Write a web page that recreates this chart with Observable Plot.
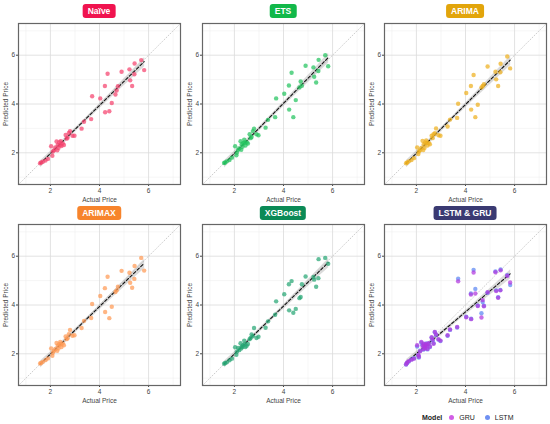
<!DOCTYPE html>
<html><head><meta charset="utf-8">
<script src="https://cdn.jsdelivr.net/npm/d3@7"></script>
<script src="https://cdn.jsdelivr.net/npm/@observablehq/plot@0.6"></script>
<style>
body{margin:0;background:#fff;font-family:"Liberation Sans",Arial,sans-serif;}
#wrap{position:relative;width:550px;height:424px;overflow:hidden;background:#fff;}
.panel{position:absolute;}
.badge{position:absolute;transform:translate(-50%,-50%);color:#fff;font-weight:bold;font-size:8.5px;padding:2px 5px;border-radius:3px;white-space:nowrap;line-height:10px;}
.legend{position:absolute;left:422px;top:413px;font-size:7px;display:flex;align-items:center;color:#222;line-height:9px;}
.legend b{margin-right:7px;}
.legend .dot{display:inline-block;width:5px;height:5px;border-radius:50%;margin-right:5px;}
.legend .lab{margin-right:10px;}
</style></head><body><div id="wrap"></div>
<script>
// ---- data ----
const modelNames = ["Naïve", "ETS", "ARIMA", "ARIMAX", "XGBoost", "LSTM & GRU"];
const badgeColors = ["#f0134f", "#12b84a", "#e2a50b", "#f7842c", "#0b8a56", "#3a3a72"];
const pointColors = ["#f5426e", "#22c35e", "#efb01f", "#ff9a55", "#27a675", null];
const seriesNames = ["GRU", "LSTM"];
const seriesColors = ["#b238de", "#5b86f2"];
const majorTicks = [2, 4, 6];
const minorTicks = [1, 3, 5, 7];
const limits = [0.7, 7.3];

const actualPrice = [1.58, 1.62, 1.69, 1.8, 1.9, 2.03, 2.08, 2.1, 2.15, 2.2, 2.25, 2.28, 2.3, 2.33, 2.36, 2.4, 2.42, 2.45, 2.5, 2.55, 2.62, 2.66, 2.7, 2.75, 2.8, 2.9, 2.98, 3.27, 3.37, 3.66, 3.7, 4.03, 4.22, 4.23, 4.33, 4.4, 4.5, 4.65, 4.7, 4.75, 4.9, 5.22, 5.25, 5.33, 5.42, 5.43, 5.7, 5.82];

const naivePred = [1.57, 1.6, 1.63, 1.68, 1.75, 2.27, 1.88, 2.05, 2.1, 2.22, 2.46, 2.1, 2.32, 2.2, 2.43, 2.32, 2.48, 2.28, 2.38, 2.32, 2.73, 2.58, 2.62, 2.81, 2.89, 2.7, 2.7, 2.99, 3.27, 3.38, 4.32, 4.23, 4.74, 3.66, 5.24, 3.7, 4.04, 4.39, 4.55, 4.73, 5.32, 5.42, 4.97, 4.74, 5.22, 5.66, 5.8, 5.39];
const etsPred = [1.58, 1.6, 1.65, 1.7, 1.8, 2.27, 1.9, 2.0, 2.12, 2.18, 2.47, 2.12, 2.35, 2.25, 2.4, 2.54, 2.42, 2.3, 2.42, 2.38, 2.76, 2.6, 2.65, 2.89, 2.99, 2.76, 2.72, 3.03, 3.35, 3.46, 4.23, 4.42, 4.76, 3.77, 5.28, 3.46, 4.16, 4.68, 4.92, 4.75, 5.57, 5.5, 5.12, 4.88, 5.35, 5.81, 6.0, 5.55];
const arimaPred = [1.57, 1.6, 1.65, 1.7, 1.78, 2.22, 1.95, 2.05, 2.1, 2.2, 2.49, 2.11, 2.35, 2.2, 2.42, 2.51, 2.4, 2.3, 2.4, 2.35, 2.7, 2.6, 2.76, 2.8, 3.0, 2.72, 2.7, 3.08, 3.36, 3.43, 4.01, 4.45, 4.74, 3.77, 5.19, 3.46, 3.97, 4.68, 4.74, 4.81, 5.54, 5.32, 5.01, 4.74, 5.3, 5.65, 5.95, 5.46];
const arimaxPred = [1.6, 1.62, 1.67, 1.74, 1.81, 2.22, 1.92, 2.04, 2.12, 2.2, 2.44, 2.12, 2.33, 2.22, 2.4, 2.49, 2.38, 2.28, 2.42, 2.35, 2.71, 2.6, 2.64, 2.8, 2.98, 2.74, 2.76, 3.06, 3.35, 3.47, 4.04, 4.37, 4.69, 3.71, 5.16, 3.46, 3.93, 4.53, 4.6, 4.75, 5.4, 5.32, 4.91, 4.71, 5.07, 5.6, 5.93, 5.41];
const xgboostPred = [1.59, 1.62, 1.65, 1.73, 1.8, 2.27, 1.96, 2.08, 2.24, 2.15, 2.43, 2.22, 2.3, 2.28, 2.35, 2.54, 2.4, 2.28, 2.33, 2.4, 2.6, 2.65, 2.79, 2.72, 3.06, 2.65, 2.7, 3.07, 3.33, 3.6, 4.15, 4.44, 4.85, 3.78, 4.98, 3.68, 3.84, 4.28, 4.33, 4.85, 5.17, 5.15, 5.04, 4.75, 5.1, 5.88, 5.93, 5.69];
const gruPred = [1.57, 1.64, 1.7, 1.76, 1.8, 2.35, 1.95, 1.88, 2.1, 2.49, 2.33, 2.19, 2.41, 2.3, 2.24, 2.4, 2.35, 2.2, 2.43, 2.3, 2.68, 2.58, 2.41, 2.9, 2.79, 2.6, 2.54, 2.76, 3.0, 3.1, 4.97, 3.5, 4.43, 3.42, 5.33, 4.47, 3.96, 3.49, 4.2, 3.95, 4.52, 5.34, 4.57, 4.3, 4.6, 5.42, 5.2, 4.92];
const lstmPred = [1.56, 1.62, 1.68, 1.77, 1.82, 2.3, 1.93, 1.85, 2.12, 2.45, 2.35, 2.17, 2.38, 2.28, 2.22, 2.42, 2.33, 2.18, 2.41, 2.28, 2.66, 2.56, 2.43, 2.88, 2.77, 2.58, 2.52, 2.74, 2.98, 3.08, 5.08, 3.52, 4.47, 3.44, 5.44, 4.66, 3.98, 3.66, 4.12, 3.97, 4.5, 5.38, 4.6, 4.32, 4.62, 5.46, 5.22, 4.82];

const predByModel = [naivePred, etsPred, arimaPred, arimaxPred, xgboostPred];

// ---- layout ----
const wrap = document.getElementById("wrap");
const colLeft = [0, 184, 366];
const rowTop = [19, 220];
const ML = 18, MR = 4, MT = 4, MB = 24, PW = 162, PH = 161;

function makePanel(data, fillSpec) {
  return Plot.plot({
    width: ML + PW + MR, height: MT + PH + MB,
    marginLeft: ML, marginRight: MR, marginTop: MT, marginBottom: MB,
    x: {domain: limits},
    y: {domain: limits},
    style: {fontFamily: "'Liberation Sans', Arial, sans-serif", fontSize: "6.5px", background: "white", overflow: "visible", color: "#222"},
    marks: [
      Plot.gridX(minorTicks, {stroke: "#ececec", strokeOpacity: 1, strokeWidth: 0.5}),
      Plot.gridY(minorTicks, {stroke: "#ececec", strokeOpacity: 1, strokeWidth: 0.5}),
      Plot.gridX(majorTicks, {stroke: "#dadada", strokeOpacity: 1, strokeWidth: 0.8}),
      Plot.gridY(majorTicks, {stroke: "#dadada", strokeOpacity: 1, strokeWidth: 0.8}),
      Plot.link([limits], {x1: d => d[0], y1: d => d[0], x2: d => d[1], y2: d => d[1], stroke: "#b5b5b5", strokeWidth: 0.7, strokeDasharray: "1.5,1.2"}),
      Plot.linearRegressionY(data, {x: "actual", y: "pred", stroke: "#111", strokeWidth: 1.1, strokeDasharray: "3,2", fill: "#888", fillOpacity: 0.3}),
      Plot.dot(data, {x: "actual", y: "pred", r: 2.2, fill: fillSpec, fillOpacity: 0.72, stroke: "none"}),
      Plot.axisX(majorTicks, {tickSize: 2, tickPadding: 1.5, stroke: "#444", fill: "#444", label: "Actual Price", labelAnchor: "center", labelArrow: "none", labelOffset: 17}),
      Plot.axisY(majorTicks, {tickSize: 2, tickPadding: 1.5, stroke: "#444", fill: "#444", label: "Predicted Price", labelAnchor: "center", labelArrow: "none", labelOffset: 15}),
      Plot.frame({stroke: "#666", strokeWidth: 1.2})
    ]
  });
}

modelNames.forEach((name, i) => {
  const col = i % 3, row = Math.floor(i / 3);
  let data, fillSpec;
  if (i < 5) {
    data = actualPrice.map((a, k) => ({actual: a, pred: predByModel[i][k]}));
    fillSpec = pointColors[i];
  } else {
    data = [];
    // LSTM drawn first, GRU on top
    actualPrice.forEach((a, k) => data.push({actual: a, pred: lstmPred[k], series: seriesNames[1]}));
    actualPrice.forEach((a, k) => data.push({actual: a, pred: gruPred[k], series: seriesNames[0]}));
    fillSpec = d => seriesColors[seriesNames.indexOf(d.series)];
  }
  const svg = makePanel(data, fillSpec);
  const div = document.createElement("div");
  div.className = "panel";
  div.style.left = colLeft[col] + "px";
  div.style.top = rowTop[row] + "px";
  div.appendChild(svg);
  wrap.appendChild(div);
  const b = document.createElement("div");
  b.className = "badge";
  b.textContent = name;
  b.style.background = badgeColors[i];
  b.style.left = (colLeft[col] + ML + PW / 2) + "px";
  b.style.top = (row === 0 ? 11 : 213) + "px";
  wrap.appendChild(b);
});

// legend
const lg = document.createElement("div");
lg.className = "legend";
let html = "<b>Model</b>";
const legendColors = ["#d25ee6", "#6f90f2"];
seriesNames.forEach((s, i) => {
  html += `<span class="dot" style="background:${legendColors[i]}"></span><span class="lab">${s}</span>`;
});
lg.innerHTML = html;
wrap.appendChild(lg);
</script>
</body></html>
